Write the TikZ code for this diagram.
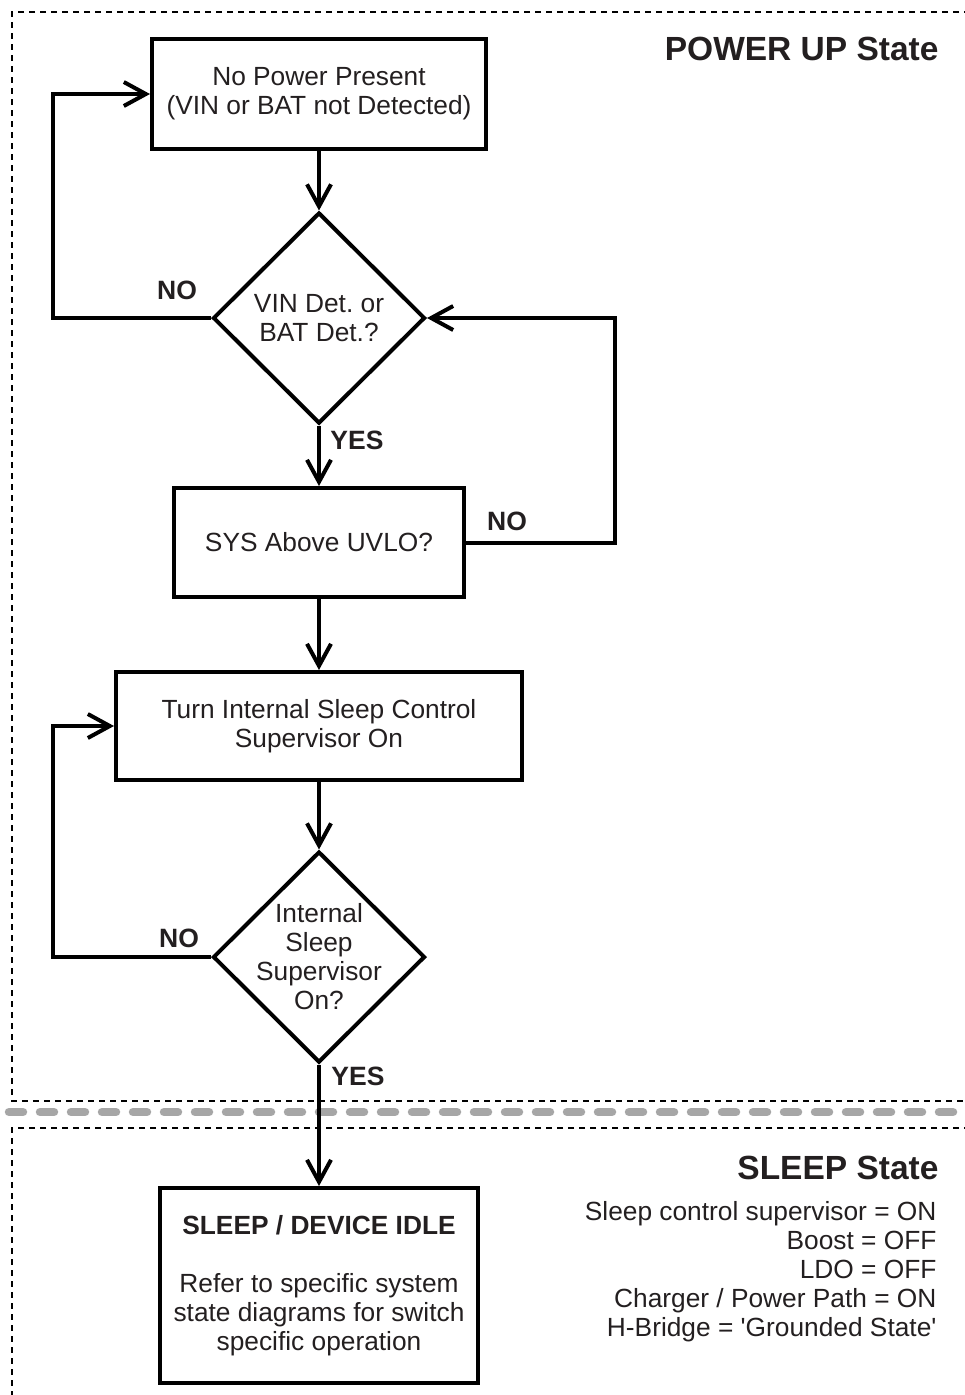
\documentclass[tikz,border=0pt]{standalone}
\usepackage{fontspec}
\setmainfont{Liberation Sans}
\usetikzlibrary{shapes.geometric,arrows.meta}
\definecolor{txt}{HTML}{231F20}
\definecolor{sepgray}{HTML}{A6A6A6}
\frenchspacing
\begin{document}
\begin{tikzpicture}[x=1pt,y=-1pt,
  every node/.style={font=\fontsize{26.3}{29}\selectfont\frenchspacing, text=txt},
  procbox/.style={draw=black, line width=4pt, rectangle, inner sep=0pt, align=center},
  decis/.style={draw=black, line width=4pt, diamond, inner sep=0pt,
                minimum width=212pt, minimum height=211pt},
  flow/.style={line width=4pt, line join=miter, -{Straight Barb[length=22pt,width=24pt]}},
  lbl/.style={font=\fontsize{26.5}{29}\selectfont\bfseries},
  head/.style={font=\fontsize{33.5}{38}\selectfont\bfseries, anchor=base east},
  frame/.style={line width=1.5pt, dash pattern=on 6pt off 5pt},
  sepline/.style={line width=8.5pt, sepgray, line cap=round, dash pattern=on 14pt off 17pt}]
\useasboundingbox (0,0) rectangle (964,1395);

% frames
\draw[frame] (970,12) -- (12,12) -- (12,1101) -- (970,1101);
\draw[frame] (970,1128) -- (12,1128) -- (12,1400);
\draw[sepline] (9,1112) -- (975,1112);

% headings
\node[head] (hpu) at (942,60) {POWER UP State};
\node[head] (hsl) at (942,1179.5) {SLEEP State};
\node[anchor=east, align=right] (cfg) at (940,1272)
  {Sleep control supervisor = ON\\Boost = OFF\\LDO = OFF\\Charger / Power Path = ON\\H-Bridge = \textquotesingle Grounded State\textquotesingle};

% nodes
\node[procbox, minimum width=334pt, minimum height=110pt] (b1) at (319,94)
  {No Power Present\\(VIN or BAT not Detected)};
\node[decis, label={[align=center]center:VIN Det. or\\BAT Det.?}] (d1) at (319,318) {};
\node[procbox, minimum width=290pt, minimum height=109pt] (b2) at (319,542.5)
  {SYS Above UVLO?};
\node[procbox, minimum width=406pt, minimum height=108pt] (b3) at (319,726)
  {Turn Internal Sleep Control\\Supervisor On};
\node[decis, label={[align=center]center:Internal\\Sleep\\Supervisor\\On?}] (d2) at (319,957) {};
\node[procbox, minimum width=318pt, minimum height=195pt] (b4) at (319,1285.5)
  {\textbf{SLEEP / DEVICE IDLE}\\[29pt]Refer to specific system\\state diagrams for switch\\specific operation};

% loop corner coordinates
\coordinate (l1) at (53,318);
\coordinate (r1) at (615,542.5);
\coordinate (l2) at (53,957);

% connectors
\draw[flow] (b1) -- (d1);
\draw[flow] (d1) -- (b2);
\draw[flow] (b2) -- (b3);
\draw[flow] (b3) -- (d2);
\draw[flow] (d2) -- (b4);
\draw[flow] (d1.west) -- (l1) |- (b1.west);
\draw[flow] (b2.east) -- (r1) |- (d1.east);
\draw[flow] (d2.west) -- (l2) |- (b3.west);

% labels
\node[lbl] (no1) at (177,290) {NO};
\node[lbl] (yes1) at (357,440) {YES};
\node[lbl] (no2) at (507,521) {NO};
\node[lbl] (no3) at (179,938) {NO};
\node[lbl] (yes2) at (358,1076) {YES};
\end{tikzpicture}
\end{document}
